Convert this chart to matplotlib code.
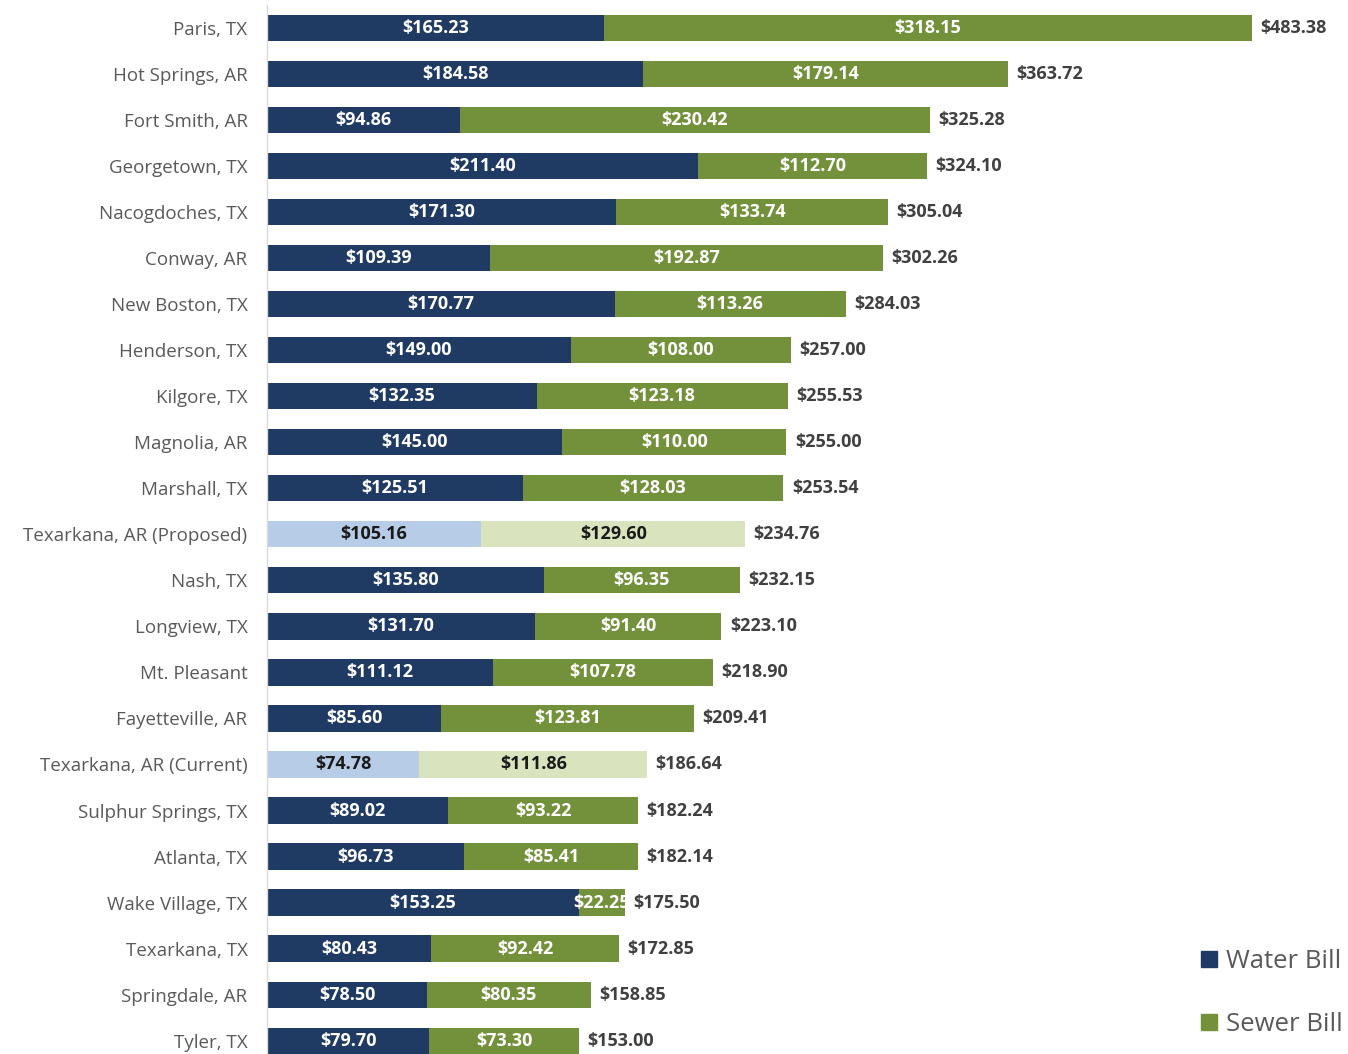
import matplotlib
matplotlib.use("Agg")
import matplotlib.pyplot as plt
from matplotlib.lines import Line2D

plt.rcParams['font.family'] = ['Open Sans', 'DejaVu Sans']

cities = ["Paris, TX", "Hot Springs, AR", "Fort Smith, AR", "Georgetown, TX",
          "Nacogdoches, TX", "Conway, AR", "New Boston, TX", "Henderson, TX",
          "Kilgore, TX", "Magnolia, AR", "Marshall, TX", "Texarkana, AR (Proposed)",
          "Nash, TX", "Longview, TX", "Mt. Pleasant", "Fayetteville, AR",
          "Texarkana, AR (Current)", "Sulphur Springs, TX", "Atlanta, TX",
          "Wake Village, TX", "Texarkana, TX", "Springdale, AR", "Tyler, TX"]
water = [165.23, 184.58, 94.86, 211.40, 171.30, 109.39, 170.77, 149.00, 132.35,
         145.00, 125.51, 105.16, 135.80, 131.70, 111.12, 85.60, 74.78, 89.02,
         96.73, 153.25, 80.43, 78.50, 79.70]
sewer = [318.15, 179.14, 230.42, 112.70, 133.74, 192.87, 113.26, 108.00, 123.18,
         110.00, 128.03, 129.60, 96.35, 91.40, 107.78, 123.81, 111.86, 93.22,
         85.41, 22.25, 92.42, 80.35, 73.30]
highlight = ["Texarkana, AR (Proposed)", "Texarkana, AR (Current)"]

WATER_C = "#1F3A63"
SEWER_C = "#72913A"
WATER_L = "#B7CCE6"
SEWER_L = "#D9E4BF"

fig = plt.figure(figsize=(13.48, 10.54), dpi=100)
ax = fig.add_axes([267/1348, 0.0, 1 - 267/1348 - 0.001, 1 - 5/1054])

y = list(range(len(cities)))
h = 0.57
FS = 13
for i, c in enumerate(cities):
    hl = c in highlight
    wc = WATER_L if hl else WATER_C
    sc = SEWER_L if hl else SEWER_C
    tc = "#1a1a1a" if hl else "white"
    ax.barh(i, water[i], height=h, color=wc, linewidth=0)
    ax.barh(i, sewer[i], left=water[i], height=h, color=sc, linewidth=0)
    ax.text(water[i] / 2, i, f"${water[i]:,.2f}", ha="center", va="center",
            color=tc, fontsize=FS, fontweight="bold")
    ax.text(water[i] + sewer[i] / 2, i, f"${sewer[i]:,.2f}", ha="center", va="center",
            color=tc, fontsize=FS, fontweight="bold")
    tot = water[i] + sewer[i]
    ax.annotate(f"${tot:,.2f}", (tot, i), xytext=(6, 0), textcoords="offset points",
                ha="left", va="center", color="#404040", fontsize=FS, fontweight="bold")

ax.set_xlim(0, 530)
ax.set_ylim(len(cities) - 1 + 0.29, -0.5)
ax.set_yticks(y)
ax.set_yticklabels(cities, fontsize=13.5, color="#595959")
ax.tick_params(axis="y", length=0, pad=14)
ax.set_xticks([])
for s in ["top", "right", "bottom"]:
    ax.spines[s].set_visible(False)
ax.spines["left"].set_color("#D9D9D9")
ax.spines["left"].set_linewidth(1.0)

handles = [Line2D([], [], marker="s", linestyle="none", markersize=12,
                  color=WATER_C, label="Water Bill"),
           Line2D([], [], marker="s", linestyle="none", markersize=12,
                  color=SEWER_C, label="Sewer Bill")]
fig.legend(handles=handles, loc="lower right", bbox_to_anchor=(1.013, -0.006),
           frameon=False, fontsize=18.5, labelcolor="#595959", labelspacing=1.5,
           handletextpad=0.15, handlelength=1.0)

fig.savefig("out.png", dpi=100)
